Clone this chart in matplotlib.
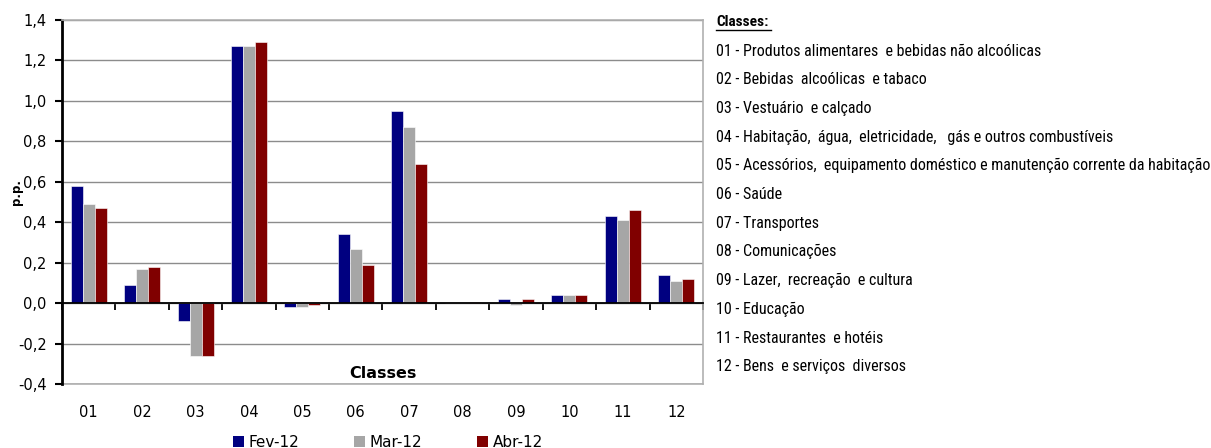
import matplotlib
matplotlib.use("Agg")
import matplotlib.pyplot as plt
import numpy as np
from matplotlib import font_manager
from matplotlib.patches import Patch

# Contribution to CPI variation by class (percentage points)
classes = ["01", "02", "03", "04", "05", "06", "07", "08", "09", "10", "11", "12"]
series_names = ["Fev-12", "Mar-12", "Abr-12"]
fev_12 = [0.58, 0.09, -0.09, 1.27, -0.02, 0.34, 0.95, 0.002, 0.02, 0.04, 0.43, 0.14]
mar_12 = [0.49, 0.17, -0.26, 1.27, -0.02, 0.27, 0.87, 0.005, -0.01, 0.04, 0.41, 0.11]
abr_12 = [0.47, 0.18, -0.26, 1.29, -0.01, 0.19, 0.69, 0.006, 0.02, 0.04, 0.46, 0.12]
y_ticks = [-0.4, -0.2, 0.0, 0.2, 0.4, 0.6, 0.8, 1.0, 1.2, 1.4]

class_names = [
    "01 - Produtos alimentares  e bebidas não alcoólicas",
    "02 - Bebidas  alcoólicas  e tabaco",
    "03 - Vestuário  e calçado",
    "04 - Habitação,  água,  eletricidade,   gás e outros combustíveis",
    "05 - Acessórios,  equipamento doméstico e manutenção corrente da habitação",
    "06 - Saúde",
    "07 - Transportes",
    "08 - Comunicações",
    "09 - Lazer,  recreação  e cultura",
    "10 - Educação",
    "11 - Restaurantes  e hotéis",
    "12 - Bens  e serviços  diversos",
]

colors = ["#000080", "#A6A6A6", "#800000"]

available = {f.name for f in font_manager.fontManager.ttflist}
narrow = "DejaVu Sans"
for cand in ["Liberation Sans Narrow", "Roboto Condensed", "Open Sans Condensed", "DejaVu Sans Condensed"]:
    if cand in available:
        narrow = cand
        break

plt.rcParams["font.family"] = ["DejaVu Sans"]

fig = plt.figure(figsize=(12.11, 4.48), dpi=100)
ax = fig.add_axes([62 / 1211, 1 - 384 / 448, (703 - 62) / 1211, (384 - 20) / 448])

x = np.arange(len(classes))
width = 0.225
for i, (vals, c) in enumerate(zip([fev_12, mar_12, abr_12], colors)):
    ax.bar(x + (i - 1) * width, vals, width, color=c, edgecolor="white",
           linewidth=0.4, zorder=3)

ax.set_xlim(-0.5, len(classes) - 0.5)
ax.set_ylim(-0.4, 1.4)
ax.set_yticks(y_ticks)
ax.set_yticklabels([f"{v:.1f}".replace(".", ",") for v in y_ticks], fontsize=10.5)
ax.yaxis.grid(True, color="#8C8C8C", linewidth=1.0, zorder=0)
ax.set_axisbelow(True)
ax.tick_params(axis="y", direction="out", length=5, width=1.5, pad=6)

# Zero line acts as the category axis
ax.spines["bottom"].set_position(("data", 0))
ax.spines["bottom"].set_color("black")
ax.spines["bottom"].set_linewidth(1.3)
ax.spines["bottom"].set_zorder(4)
ax.set_xticks([])
ax.set_xticks(np.arange(-0.5, len(classes) + 0.5, 1.0), minor=True)
ax.tick_params(axis="x", which="minor", direction="out", length=5, width=1.3)
ax.spines["left"].set_linewidth(2.0)
ax.spines["left"].set_color("black")
for s in ["top", "right"]:
    ax.spines[s].set_color("#B0B0B0")
    ax.spines[s].set_linewidth(1.2)

# Category labels along the lower frame of the plot area
sec = ax.secondary_xaxis("bottom")
sec.set_xticks(x)
sec.set_xticklabels(classes, fontsize=10.5)
sec.tick_params(length=0, pad=15)
sec.spines["bottom"].set_color("#B0B0B0")
sec.spines["bottom"].set_linewidth(1.2)

ax.text(0.5, 0.028, "Classes", transform=ax.transAxes, ha="center",
        va="center", fontsize=11.5, fontweight="bold")

fig.text(17 / 1211, 1 - 192 / 448, "p.p.", rotation=90, ha="center", va="center",
         fontsize=8.5, fontweight="bold")

handles = [Patch(facecolor=c, edgecolor="none") for c in colors]
fig.legend(handles, series_names, loc="center", bbox_to_anchor=(388 / 1211, 1 - 442 / 448),
           ncol=3, frameon=False, fontsize=11, handlelength=0.7, handleheight=0.7,
           handletextpad=0.3, columnspacing=3.6)

# Class descriptions on the right
fig.text(716 / 1211, 1 - 22 / 448, "Classes:", fontsize=11, fontweight="bold",
         family=narrow, ha="left", va="center")
fig.add_artist(plt.Line2D([716 / 1211, 771 / 1211], [1 - 30 / 448, 1 - 30 / 448],
                          color="black", linewidth=1.0))
for k, name in enumerate(class_names):
    fig.text(716 / 1211, 1 - (51 + k * 28.7) / 448, name, fontsize=11.5,
             family=narrow, ha="left", va="center")

fig.savefig("out.png", dpi=100)
